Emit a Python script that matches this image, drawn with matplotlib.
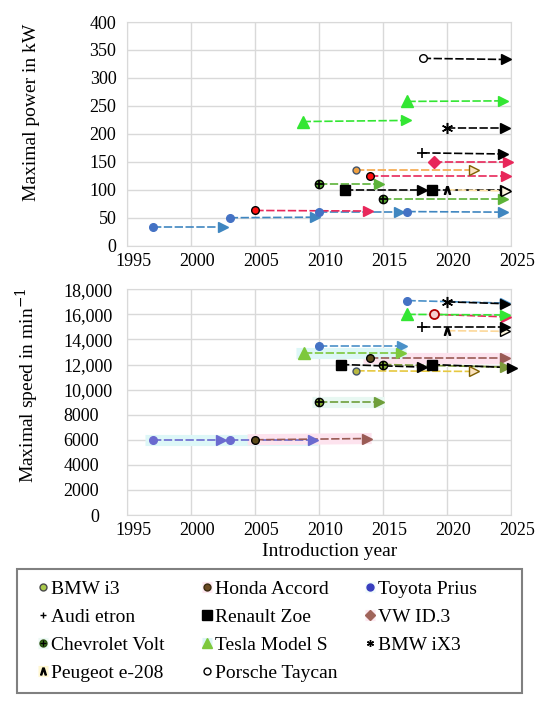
import numpy as np
import matplotlib.pyplot as plt
import matplotlib.transforms as mtransforms
from matplotlib.lines import Line2D
from matplotlib.patches import Rectangle

plt.rcParams['font.family'] = ['Liberation Serif', 'DejaVu Serif']
plt.rcParams['mathtext.fontset'] = 'dejavuserif'

# ---- Datos: potencia máxima (kW) ----
power_car = ['Toyota Prius', 'Toyota Prius', 'Toyota Prius', 'Toyota Prius',
             'Honda Accord', 'Honda Accord', 'BMW i3',
             'Chevrolet Volt', 'Chevrolet Volt', 'Renault Zoe', 'Renault Zoe',
             'Peugeot e-208', 'VW ID.3', 'Audi etron', 'BMW iX3',
             'Tesla Model S', 'Tesla Model S', 'Porsche Taycan']
power_from = [1997.0, 2003.0, 2010.0, 2016.9, 2005.0, 2014.0, 2012.9,
              2010.0, 2015.0, 2012.0, 2018.8, 2020.0, 2019.0, 2018.0, 2020.0,
              2008.7, 2016.9, 2018.1]
power_to = [2002.5, 2009.7, 2016.2, 2024.4, 2013.8, 2024.6, 2022.1,
            2014.7, 2024.4, 2018.0, 2024.5, 2024.6, 2024.8, 2024.4, 2024.5,
            2016.8, 2024.4, 2024.6]
power_kw_from = [33, 50, 60, 61, 63, 124, 135, 110, 84, 100, 100, 100, 150,
                 166, 210, 222, 258, 335]
power_kw_to = [33, 51, 60, 60, 62, 124, 135, 110, 84, 100, 100, 98, 150,
               164, 210, 224, 259, 333]

# ---- Datos: velocidad máxima (1/min) ----
speed_car = ['Toyota Prius', 'Toyota Prius', 'Toyota Prius', 'Toyota Prius',
             'Honda Accord', 'Honda Accord', 'BMW i3',
             'Chevrolet Volt', 'Chevrolet Volt', 'Renault Zoe', 'Renault Zoe',
             'Peugeot e-208', 'VW ID.3', 'Audi etron', 'BMW iX3',
             'Tesla Model S', 'Tesla Model S']
speed_from = [1997.0, 2003.0, 2010.0, 2016.9, 2005.0, 2014.0, 2012.9,
              2010.0, 2015.0, 2011.7, 2018.8, 2020.0, 2019.0, 2018.0, 2020.0,
              2008.8, 2016.9]
speed_to = [2002.3, 2009.5, 2016.5, 2024.5, 2013.7, 2024.5, 2022.1,
            2014.7, 2024.5, 2018.0, 2025.1, 2024.5, 2024.6, 2024.5, 2024.5,
            2016.4, 2024.5]
speed_rpm_from = [6000, 6000, 13500, 17100, 6000, 12500, 11500, 9000, 12000,
                  12000, 12000, 14700, 16000, 15000, 17000, 12900, 16000]
speed_rpm_to = [6000, 6000, 13500, 16900, 6100, 12500, 11450, 9000, 11800,
                11800, 11750, 14650, 15800, 15000, 16850, 12900, 15950]

years = [1995, 2000, 2005, 2010, 2015, 2020, 2025]
power_ticks = [0, 50, 100, 150, 200, 250, 300, 350, 400]
speed_ticks = [0, 2000, 4000, 6000, 8000, 10000, 12000, 14000, 16000, 18000]
speed_labels = ['\u2007\u2007\u20070', '2000', '4000', '6000', '8000', '10,000',
                '12,000', '14,000', '16,000', '18,000']

legend_cols = [['BMW i3', 'Audi etron', 'Chevrolet Volt', 'Peugeot e-208'],
               ['Honda Accord', 'Renault Zoe', 'Tesla Model S', 'Porsche Taycan'],
               ['Toyota Prius', 'VW ID.3', 'BMW iX3']]

# ---- Estilos ----
power_line_col = ['#3F86C0', '#3F86C0', '#3F86C0', '#3F86C0', '#E8275A', '#E8275A',
                  '#F5A84A', '#5CB338', '#5CB338', 'k', 'k', '#FFE3A8', '#E8275A',
                  'k', 'k', '#33E633', '#33E633', 'k']
power_dot_col = ['#4472C4', '#4472C4', '#4472C4', '#4472C4', '#FF1010', '#FF1010',
                 '#F0A040', '#58A832', '#58A832', 'k', 'k', '#FFF2CC', '#E8275A',
                 'k', 'k', '#33E633', '#33E633', 'w']
speed_line_col = ['#6A6ACF', '#6A6ACF', '#4A90C8', '#4A90C8', '#9A5B55', '#9A5B55',
                  '#E6C840', '#6E9E3A', '#7D9A3A', 'k', 'k', '#FCD89A', '#E8275A',
                  'k', 'k', '#7DC83C', '#33E633']
speed_dot_col = ['#6A6ACF', '#6A6ACF', '#4472C4', '#4472C4', '#5C4A1A', '#5C4A1A',
                 '#B8B840', '#7FA830', '#7FA830', 'k', 'k', '#FCE0B0', '#F6D0D0',
                 'k', 'k', '#7DC83C', '#33E633']
speed_glow = ['#DDF7F7', '#DDF7F7', None, None, '#FDE3EE', '#FDE3EE', None,
              '#E8F8F2', None, None, None, None, None, None, None, '#DDF7F7', None]

marker_of = {
    'Toyota Prius': dict(marker='o', ms=5.5),
    'Honda Accord': dict(marker='o', ms=5.5, mec='k'),
    'BMW i3': dict(marker='o', ms=5, mec='#44546A'),
    'Chevrolet Volt': dict(marker='o', ms=6, mec='k'),
    'Renault Zoe': dict(marker='s', ms=7),
    'Peugeot e-208': dict(marker='$\\wedge$', ms=5.5, mec='k'),
    'VW ID.3': dict(marker='D', ms=6),
    'Audi etron': dict(marker='+', ms=7, mew=1.2),
    'BMW iX3': dict(marker=(6, 2, 0), ms=8, mew=1.1),
    'Tesla Model S': dict(marker='^', ms=8.5),
    'Porsche Taycan': dict(marker='o', ms=5.5, mec='k'),
}
open_arrow = {'BMW i3': '#FBE3C0', 'Peugeot e-208': '#FFF8E0'}
dash = (0, (5, 1.5))


def draw(ax, cars, x0, x1, v0, v1, line_cols, dot_cols, glows, vw_marker):
    for i, car in enumerate(cars):
        lc, dc = line_cols[i], dot_cols[i]
        if glows is not None and glows[i]:
            ax.plot([x0[i] - 0.6, x1[i] + 0.4], [v0[i], v1[i]], color=glows[i],
                    lw=8, solid_capstyle='butt', zorder=1, clip_on=False)
        ax.plot([x0[i], x1[i]], [v0[i], v1[i]], color=lc, lw=1.2, ls=dash,
                zorder=2, clip_on=False)
        if car in open_arrow:
            ax.plot(x1[i], v1[i], marker='>', ms=6.5, mfc=open_arrow[car],
                    mec='#7F6000' if car == 'BMW i3' else 'k', mew=1.0,
                    zorder=3, clip_on=False)
        else:
            ax.plot(x1[i], v1[i], marker='>', ms=6.5, color=lc, zorder=3,
                    clip_on=False)
        spec = dict(marker_of[car])
        if car == 'VW ID.3' and vw_marker:
            spec = dict(marker='o', ms=6.5, mec='#B00000', mew=1.3)
        spec.setdefault('mec', dc)
        if car in ('Audi etron', 'BMW iX3', 'Peugeot e-208'):
            ax.plot(x0[i], v0[i], color='k', ls='none', zorder=4,
                    clip_on=False, **spec)
        else:
            ax.plot(x0[i], v0[i], mfc=dc, ls='none', zorder=4, clip_on=False,
                    **spec)
        if car == 'Chevrolet Volt':
            ax.plot(x0[i], v0[i], marker='+', ms=6, color='k', mew=1.3,
                    zorder=5, clip_on=False)


def style(ax):
    ax.set_xlim(1995, 2025)
    ax.set_xticks(years)
    ax.grid(True, color='#D9D9D9', lw=1)
    ax.set_axisbelow(True)
    for s in ax.spines.values():
        s.set_color('#D9D9D9')
    ax.tick_params(length=0, labelsize=13)
    ax.xaxis.set_tick_params(pad=5)
    shift = mtransforms.ScaledTranslation(6 / 100, 0, fig.dpi_scale_trans)
    for lab in ax.get_xticklabels():
        lab.set_transform(lab.get_transform() + shift)


fig = plt.figure(figsize=(5.5, 7.03), dpi=100)
ax1 = fig.add_axes([0.2318, 0.6505, 0.6973, 0.3182])
ax2 = fig.add_axes([0.2318, 0.2674, 0.6973, 0.3211])

draw(ax1, power_car, power_from, power_to, power_kw_from, power_kw_to,
     power_line_col, power_dot_col, None, False)
style(ax1)
ax1.set_ylim(0, 400)
ax1.set_yticks(power_ticks)
ax1.yaxis.set_tick_params(pad=8)
ax1.set_ylabel('Maximal power in kW', fontsize=14)
ax1.yaxis.set_label_coords(-0.227, 0.598)

draw(ax2, speed_car, speed_from, speed_to, speed_rpm_from, speed_rpm_to,
     speed_line_col, speed_dot_col, speed_glow, True)
style(ax2)
ax2.set_ylim(0, 18000)
ax2.set_yticks(speed_ticks)
ax2.set_yticklabels(speed_labels, ha='left')
ax2.yaxis.set_tick_params(pad=46)
ax2.set_ylabel('Maximal speed in min$^{-1}$', fontsize=14)
ax2.yaxis.set_label_coords(-0.2255, 0.576)
ax2.set_xlabel('Introduction year', fontsize=14)
ax2.xaxis.set_label_coords(0.527, -0.122)

# ---- Leyenda ----
leg_col = {
    'BMW i3': dict(marker='o', mfc='#A9C94A', mec='#4A4A4A'),
    'Honda Accord': dict(marker='o', mfc='#6B4A22', mec='#3A2A10'),
    'Toyota Prius': dict(marker='o', mfc='#3A3FBF', mec='#3A3FBF'),
    'Audi etron': dict(marker='+', color='k'),
    'Renault Zoe': dict(marker='s', color='k'),
    'VW ID.3': dict(marker='D', color='#A0645A'),
    'Chevrolet Volt': dict(marker='o', mfc='#3D7A1F', mec='#2A5010'),
    'Tesla Model S': dict(marker='^', color='#7DC83C'),
    'BMW iX3': dict(marker=(6, 2, 0), color='k'),
    'Peugeot e-208': dict(marker='$\\wedge$', color='k'),
    'Porsche Taycan': dict(marker='o', mfc='w', mec='k'),
}
leg_glow = {'Honda Accord': '#FDE8F0', 'Toyota Prius': '#F0FBFB',
            'VW ID.3': '#FDE8F0', 'Chevrolet Volt': '#ECF9F4',
            'Tesla Model S': '#DDF6F6', 'Peugeot e-208': '#FFF7D0'}


def make_handle(car):
    ms = 7 if leg_col[car]['marker'] in ('^', 's') else 5
    mk = Line2D([], [], ls='none', ms=ms, **leg_col[car])
    parts = []
    if car in leg_glow:
        parts.append(Line2D([], [], color=leg_glow[car], lw=8,
                            solid_capstyle='butt'))
    parts.append(mk)
    if car == 'Chevrolet Volt':
        parts.append(Line2D([], [], ls='none', marker='+', ms=5, color='k'))
    return tuple(parts) if len(parts) > 1 else mk


col_left = [38 / 550, 202 / 550, 365 / 550]
for xl, names in zip(col_left, legend_cols):
    fig.legend([make_handle(c) for c in names], names, loc='upper left',
               bbox_to_anchor=(xl, 0.1745), ncol=1, frameon=False, fontsize=14,
               handlelength=0.5, handletextpad=0.15, labelspacing=0.54,
               borderpad=0, borderaxespad=0)
fig.patches.append(Rectangle((16.8 / 550, 1 - 693.3 / 703), 504.9 / 550,
                             124 / 703, transform=fig.transFigure, fill=False,
                             edgecolor='#808080', lw=1.5))

fig.savefig('out.png', dpi=100)
